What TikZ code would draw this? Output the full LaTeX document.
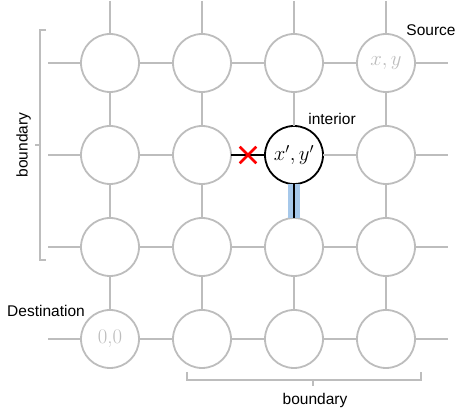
\documentclass[tikz,border=0pt]{standalone}
\usepackage{fontspec}
\newfontfamily\labelfont{Liberation Sans}
\usetikzlibrary{positioning,shapes.misc}
\definecolor{wire}{HTML}{BDBDBD}
\definecolor{hilite}{HTML}{A6C8EA}

\begin{document}
\begin{tikzpicture}[x=1pt, y=1pt,
node distance = 34pt and 34pt,
cell/.style={circle, draw=wire, fill=white, line width=1.8pt, minimum size=58pt, inner sep=0pt, outer sep=0pt, text=wire, font=\huge},
focus/.style={cell, draw=black, text=black},
link/.style={draw=wire, line width=1.8pt},
used/.style={draw=black, line width=1.6pt},
tag/.style={font=\labelfont\fontsize{15.5}{18}\selectfont},
brace/.style={draw=wire, line width=1.2pt},
blocked/.style={cross out, draw=red, line width=2.6pt, minimum size=14pt, inner sep=0pt}]

\useasboundingbox (0,0) rectangle (456,415);

% grid of cells
\node[cell] (r0c0) at (110,352) {};
\node[cell] (r0c1) [right = of r0c0] {};
\node[cell] (r0c2) [right = of r0c1] {};
\node[cell] (r0c3) [right = of r0c2] {$x,y$};

\node[cell] (r1c0) [below = of r0c0] {};
\node[cell] (r1c1) [right = of r1c0] {};
\node[focus] (r1c2) [right = of r1c1] {$x',y'$};
\node[cell] (r1c3) [right = of r1c2] {};

\node[cell] (r2c0) [below = of r1c0] {};
\node[cell] (r2c1) [right = of r2c0] {};
\node[cell] (r2c2) [right = of r2c1] {};
\node[cell] (r2c3) [right = of r2c2] {};

\node[cell] (r3c0) [below = of r2c0] {0,0};
\node[cell] (r3c1) [right = of r3c0] {};
\node[cell] (r3c2) [right = of r3c1] {};
\node[cell] (r3c3) [right = of r3c2] {};

% free ends of the wires
\coordinate[above = 33pt of r0c0] (t0);
\coordinate[above = 33pt of r0c1] (t1);
\coordinate[above = 33pt of r0c2] (t2);
\coordinate[above = 33pt of r0c3] (t3);
\coordinate[left = 33pt of r0c0] (l0);
\coordinate[left = 33pt of r1c0] (l1);
\coordinate[left = 33pt of r2c0] (l2);
\coordinate[left = 33pt of r3c0] (l3);
\coordinate[right = 33pt of r0c3] (e0);
\coordinate[right = 33pt of r1c3] (e1);
\coordinate[right = 33pt of r2c3] (e2);
\coordinate[right = 33pt of r3c3] (e3);

% rows
\draw[link] (l0) -- (r0c0) -- (r0c1) -- (r0c2) -- (r0c3) -- (e0);
\draw[link] (l1) -- (r1c0) -- (r1c1);
\draw[link] (r1c2) -- (r1c3) -- (e1);
\draw[link] (l2) -- (r2c0) -- (r2c1) -- (r2c2) -- (r2c3) -- (e2);
\draw[link] (l3) -- (r3c0) -- (r3c1) -- (r3c2) -- (r3c3) -- (e3);

% columns
\draw[link] (t0) -- (r0c0) -- (r1c0) -- (r2c0) -- (r3c0);
\draw[link] (t1) -- (r0c1) -- (r1c1) -- (r2c1) -- (r3c1);
\draw[link] (t2) -- (r0c2) -- (r1c2);
\draw[link] (r2c2) -- (r3c2);
\draw[link] (t3) -- (r0c3) -- (r1c3) -- (r2c3) -- (r3c3);

% path taken and path cut
\draw[hilite, line width=12pt] (r1c2) -- (r2c2);
\draw[used] (r1c2) -- (r2c2);
\draw[used] (r1c1) -- (r1c2);
\path (r1c1) -- (r1c2) node[blocked, midway] (cut) {};

% labels
\node[tag] (source) at (431,385) {Source};
\node[tag] (interior) at (332,296) {interior};
\node[tag] (dest) at (46,104) {Destination};
\node[tag, rotate=90] (bleft) at (23.5,270) {boundary};
\node[tag] (bdown) at (315,15) {boundary};

% brackets
\draw[brace] (46,385) -- (40,385) -- (40,155) -- (46,155) (40,270) -- (35,270);
\draw[brace] (187,43) -- (187,35) -- (421,35) -- (421,43) (313,35) -- (313,29);
\end{tikzpicture}
\end{document}
